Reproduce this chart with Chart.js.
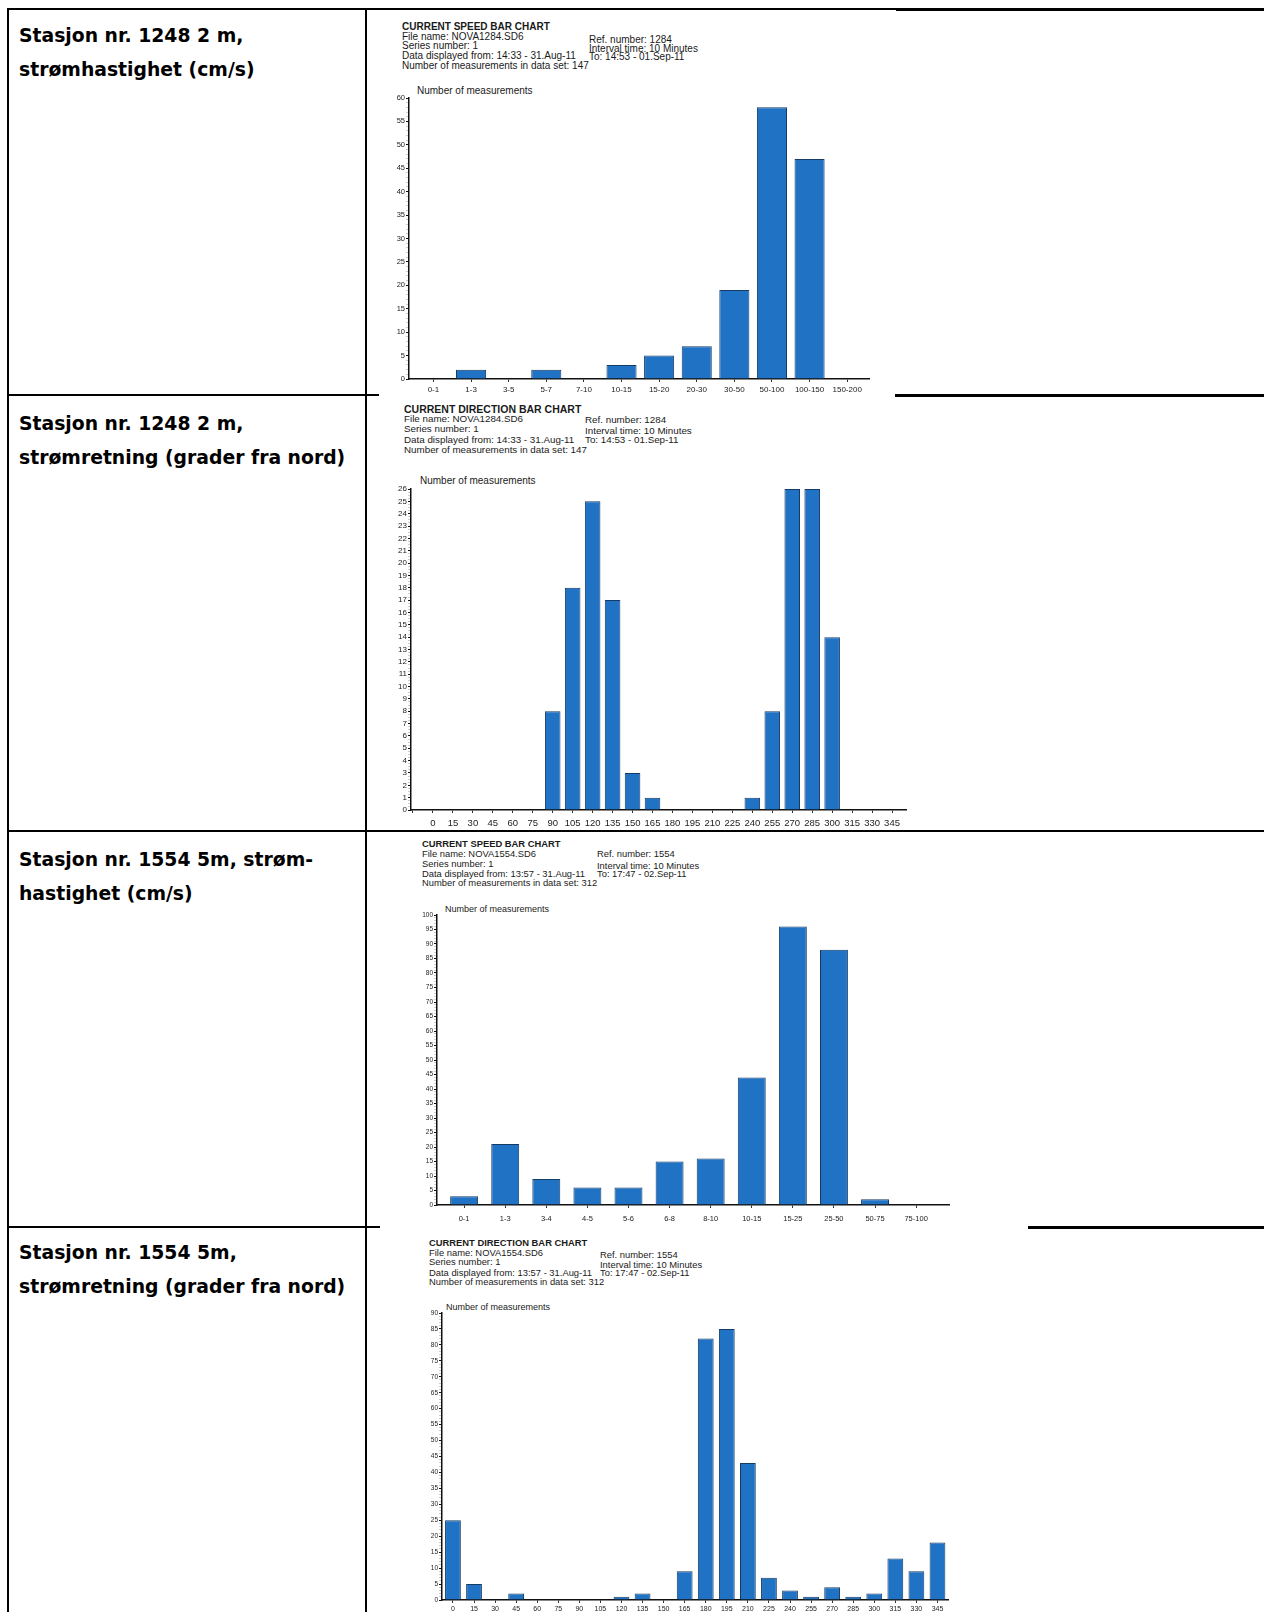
<!DOCTYPE html>
<html>
<head>
<meta charset="utf-8">
<script src="https://cdn.jsdelivr.net/npm/chart.js@4.4.0/dist/chart.umd.min.js"></script>
<style>
  body { margin: 0; width: 1264px; height: 1612px; overflow: hidden; background: #fff; position: relative;
         font-family: "Liberation Sans", Arial, sans-serif; color: #1a1a1a; }
  .ln { position: absolute; background: #000; }
  .cell { position: absolute; left: 19px; font-family: "DejaVu Sans", Verdana, sans-serif; font-weight: bold;
          font-size: 18.8px; line-height: 34px; color: #000; white-space: nowrap; }
  .h { position: absolute; line-height: 12px; white-space: nowrap; }
  .h.b { font-weight: bold; }
  canvas { position: absolute; }
</style>
</head>
<body>
<!-- tabellrammer -->
<div class="ln" style="left:7px;top:8px;width:2px;height:1604px"></div>
<div class="ln" style="left:365px;top:8px;width:2px;height:1604px"></div>
<div class="ln" style="left:7px;top:8px;width:1257px;height:2px"></div>
<div class="ln" style="left:896px;top:8px;width:368px;height:3px"></div>
<div class="ln" style="left:7px;top:394px;width:372px;height:2px"></div>
<div class="ln" style="left:895px;top:394px;width:369px;height:3px"></div>
<div class="ln" style="left:7px;top:830px;width:1257px;height:2px"></div>
<div class="ln" style="left:7px;top:1226px;width:373px;height:2px"></div>
<div class="ln" style="left:1028px;top:1226px;width:236px;height:3px"></div>

<!-- venstre kolonne -->
<div class="cell" style="top:19px">Stasjon nr. 1248 2 m,<br>strømhastighet (cm/s)</div>
<div class="cell" style="top:407px">Stasjon nr. 1248 2 m,<br>strømretning (grader fra nord)</div>
<div class="cell" style="top:843px">Stasjon nr. 1554 5m, strøm-<br>hastighet (cm/s)</div>
<div class="cell" style="top:1236px">Stasjon nr. 1554 5m,<br>strømretning (grader fra nord)</div>

<!-- figur 1 -->
<div class="h b" style="left:402px;top:20.7px;font-size:10px">CURRENT SPEED BAR CHART</div>
<div class="h" style="left:402px;top:30.5px;font-size:10px">File name: NOVA1284.SD6</div>
<div class="h" style="left:402px;top:40px;font-size:10px">Series number: 1</div>
<div class="h" style="left:402px;top:50px;font-size:10px">Data displayed from: 14:33 - 31.Aug-11</div>
<div class="h" style="left:402px;top:59.5px;font-size:10px">Number of measurements in data set: 147</div>
<div class="h" style="left:589px;top:33.5px;font-size:10px">Ref. number: 1284</div>
<div class="h" style="left:589px;top:42.5px;font-size:10px">Interval time: 10 Minutes</div>
<div class="h" style="left:589px;top:50.5px;font-size:10px">To: 14:53 - 01.Sep-11</div>
<div class="h" style="left:417px;top:84.5px;font-size:10px">Number of measurements</div>
<canvas id="c1" width="494" height="307" style="left:379px;top:88px"></canvas>

<!-- figur 2 -->
<div class="h b" style="left:404px;top:402.5px;font-size:10.5px">CURRENT DIRECTION BAR CHART</div>
<div class="h" style="left:404px;top:412.8px;font-size:9.8px">File name: NOVA1284.SD6</div>
<div class="h" style="left:404px;top:423px;font-size:9.8px">Series number: 1</div>
<div class="h" style="left:404px;top:433.5px;font-size:9.8px">Data displayed from: 14:33 - 31.Aug-11</div>
<div class="h" style="left:404px;top:443.6px;font-size:9.8px">Number of measurements in data set: 147</div>
<div class="h" style="left:585px;top:414px;font-size:9.8px">Ref. number: 1284</div>
<div class="h" style="left:585px;top:425px;font-size:9.8px">Interval time: 10 Minutes</div>
<div class="h" style="left:585px;top:433.5px;font-size:9.8px">To: 14:53 - 01.Sep-11</div>
<div class="h" style="left:420px;top:474.5px;font-size:10px">Number of measurements</div>
<canvas id="c2" width="529" height="351" style="left:381px;top:479px"></canvas>

<!-- figur 3 -->
<div class="h b" style="left:422px;top:837.6px;font-size:9.4px">CURRENT SPEED BAR CHART</div>
<div class="h" style="left:422px;top:848px;font-size:9.4px">File name: NOVA1554.SD6</div>
<div class="h" style="left:422px;top:858px;font-size:9.4px">Series number: 1</div>
<div class="h" style="left:422px;top:867.5px;font-size:9.4px">Data displayed from: 13:57 - 31.Aug-11</div>
<div class="h" style="left:422px;top:876.7px;font-size:9.4px">Number of measurements in data set: 312</div>
<div class="h" style="left:597px;top:848px;font-size:9.4px">Ref. number: 1554</div>
<div class="h" style="left:597px;top:860px;font-size:9.4px">Interval time: 10 Minutes</div>
<div class="h" style="left:597px;top:867.5px;font-size:9.4px">To: 17:47 - 02.Sep-11</div>
<div class="h" style="left:445px;top:903px;font-size:9px">Number of measurements</div>
<canvas id="c3" width="546" height="320" style="left:407px;top:905px"></canvas>

<!-- figur 4 -->
<div class="h b" style="left:429px;top:1237px;font-size:9.4px">CURRENT DIRECTION BAR CHART</div>
<div class="h" style="left:429px;top:1246.8px;font-size:9.4px">File name: NOVA1554.SD6</div>
<div class="h" style="left:429px;top:1256px;font-size:9.4px">Series number: 1</div>
<div class="h" style="left:429px;top:1266.9px;font-size:9.4px">Data displayed from: 13:57 - 31.Aug-11</div>
<div class="h" style="left:429px;top:1276px;font-size:9.4px">Number of measurements in data set: 312</div>
<div class="h" style="left:600px;top:1249.3px;font-size:9.4px">Ref. number: 1554</div>
<div class="h" style="left:600px;top:1259px;font-size:9.4px">Interval time: 10 Minutes</div>
<div class="h" style="left:600px;top:1266.9px;font-size:9.4px">To: 17:47 - 02.Sep-11</div>
<div class="h" style="left:446px;top:1301px;font-size:9px">Number of measurements</div>
<canvas id="c4" width="546" height="311" style="left:412px;top:1303px"></canvas>

<script>
// Stasjon 1248, 2 m – strømhastighet (cm/s)
const speedLabels1248 = ['0-1', '1-3', '3-5', '5-7', '7-10', '10-15', '15-20', '20-30', '30-50', '50-100', '100-150', '150-200'];
const speedCounts1248 = [0, 2, 0, 2, 0, 3, 5, 7, 19, 58, 47, 0];

// retning, grader fra nord (samme klasser for begge stasjoner)
const dirLabels = ['0', '15', '30', '45', '60', '75', '90', '105', '120', '135', '150', '165',
                   '180', '195', '210', '225', '240', '255', '270', '285', '300', '315', '330', '345'];
const dirCounts1248 = [0, 0, 0, 0, 0, 0, 8, 18, 25, 17, 3, 1, 0, 0, 0, 0, 1, 8, 26, 26, 14, 0, 0, 0];

// Stasjon 1554, 5 m
const speedLabels1554 = ['0-1', '1-3', '3-4', '4-5', '5-6', '6-8', '8-10', '10-15', '15-25', '25-50', '50-75', '75-100'];
const speedCounts1554 = [3, 21, 9, 6, 6, 15, 16, 44, 96, 88, 2, 0];
const dirCounts1554 = [25, 5, 0, 2, 0, 0, 0, 0, 1, 2, 0, 9, 82, 85, 43, 7, 3, 1, 4, 1, 2, 13, 9, 18];

const barFill = '#1f72c4';
const barEdge = '#163b64';

Chart.defaults.font.family = '"Liberation Sans", Arial, sans-serif';
Chart.defaults.color = '#222';

// x-aksen er lineær (klasse-indeks) så avstanden fra y-aksen blir som i originalen
function makeChart(id, labels, counts, o) {
  return new Chart(document.getElementById(id), {
    type: 'bar',
    data: {
      datasets: [{
        data: counts.map((v, i) => ({ x: i, y: v })),
        backgroundColor: barFill,
        borderColor: barEdge,
        borderWidth: 1,
        barPercentage: o.bar,
        categoryPercentage: 1
      }]
    },
    options: {
      responsive: false,
      animation: false,
      devicePixelRatio: 1,
      layout: { padding: { top: o.padTop, right: o.padRight, left: 0, bottom: 0 } },
      plugins: { legend: { display: false }, tooltip: { enabled: false } },
      scales: {
        x: {
          type: 'linear',
          min: o.xMin,
          max: o.xMax,
          offset: false,
          grid: { offset: false, drawOnChartArea: false, tickLength: 3, color: '#333' },
          border: { color: '#111', width: 1.5 },
          ticks: {
            stepSize: 1,
            includeBounds: false,
            autoSkip: false,
            maxRotation: 0,
            padding: o.xPad,
            font: { size: o.xFont },
            callback: v => labels[v] !== undefined ? labels[v] : ''
          },
          afterFit: function(s) { s.height = o.xH; }
        },
        y: {
          min: 0,
          max: o.max,
          grid: {
            drawOnChartArea: false,
            tickLength: 3,
            tickColor: ctx => (ctx.tick && ctx.tick.value % o.major === 0) ? '#111' : '#999',
            tickWidth: ctx => (ctx.tick && ctx.tick.value % o.major === 0) ? 1 : 0.5
          },
          border: { color: '#111', width: 1.5 },
          ticks: {
            stepSize: o.minor,
            autoSkip: false,
            padding: 1,
            font: { size: o.yFont },
            callback: v => (v % o.major === 0) ? v : ''
          },
          afterFit: function(s) { s.width = o.yW; }
        }
      }
    }
  });
}

makeChart('c1', speedLabels1248, speedCounts1248,
  { max: 60, major: 5, minor: 1, bar: 0.8, xMin: -0.65, xMax: 11.58, padTop: 10, padRight: 4, yW: 30, xH: 16, xPad: 3, xFont: 8, yFont: 7.5 });
makeChart('c2', dirLabels, dirCounts1248,
  { max: 26, major: 1, minor: 0.25, bar: 0.78, xMin: -1.1, xMax: 23.7, padTop: 10, padRight: 4, yW: 30, xH: 20, xPad: 5, xFont: 9.5, yFont: 8 });
makeChart('c3', speedLabels1554, speedCounts1554,
  { max: 100, major: 5, minor: 1, bar: 0.68, xMin: -0.66, xMax: 11.8, padTop: 10, padRight: 4, yW: 30, xH: 20, xPad: 6, xFont: 7.5, yFont: 6.5 });
makeChart('c4', dirLabels, dirCounts1554,
  { max: 90, major: 5, minor: 1, bar: 0.75, xMin: -0.52, xMax: 23.5, padTop: 10, padRight: 10, yW: 30, xH: 14, xPad: 2, xFont: 7, yFont: 6.5 });
</script>
</body>
</html>
